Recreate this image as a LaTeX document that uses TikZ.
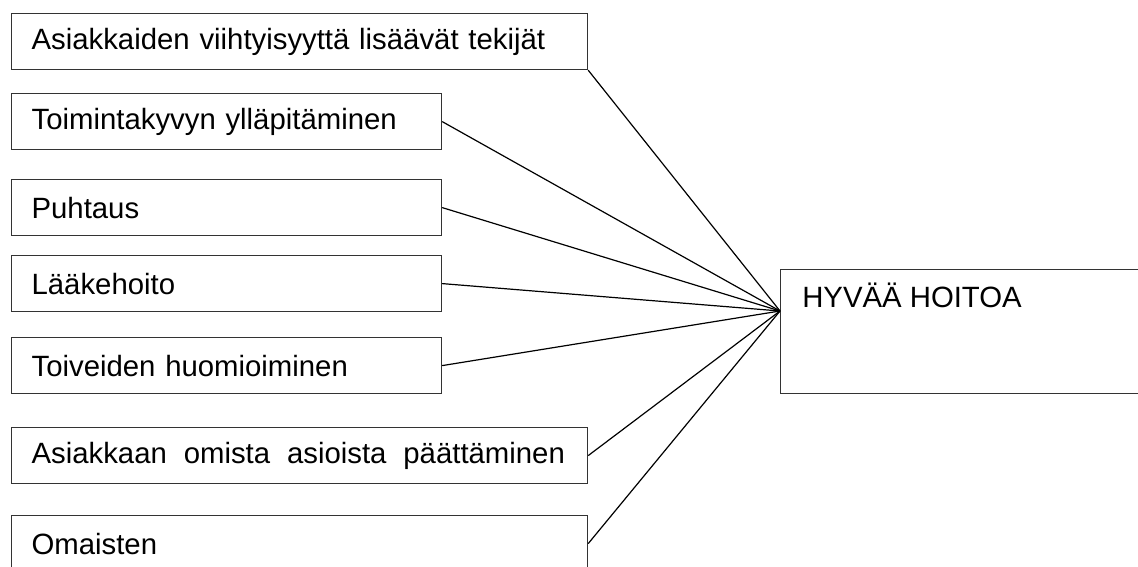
\documentclass[tikz,border=0pt]{standalone}
\usepackage{fontspec}
\setmainfont{Liberation Sans}
\usetikzlibrary{positioning}
\tikzset{
  tekija/.style={draw=black!80, line width=0.9pt, rectangle, anchor=north west,
    minimum height=42pt, inner xsep=15pt, align=left,
    font=\fontsize{22}{26}\selectfont},
  lyhyt/.style={tekija, text width=292.5pt},
  pitka/.style={tekija, text width=402pt},
  yhteys/.style={black, line width=0.9pt}
}

\begin{document}
\begin{tikzpicture}[x=0.75pt,y=-0.75pt]
\clip (0,0) rectangle (1138,567);

% vasemman reunan laatikot
\node[pitka] (asiakkaiden) at (11,13) {Asiakkaiden viihtyisyyttä lisäävät tekijät};
\node[lyhyt] (toimintakyky) at (11,93) {Toimintakyvyn ylläpitäminen};
\node[lyhyt] (puhtaus) at (11,179) {Puhtaus};
\node[lyhyt] (laakehoito) at (11,255) {Lääkehoito};
\node[lyhyt] (toiveet) at (11,337) {Toiveiden huomioiminen};
\node[pitka] (paattaminen) at (11,427) {\makebox[400pt]{Asiakkaan\hfill omista\hfill asioista\hfill päättäminen}};
\node[pitka] (omaiset) at (11,515) {Omaisten};

% oikea laatikko
\node[draw=black!80, line width=0.9pt, anchor=north west, minimum width=300pt,
  minimum height=93pt] (hoito) at (780,269) {};
\node[anchor=base west, inner sep=0pt, font=\fontsize{22}{26}\selectfont]
  (hoitoteksti) at (802,307) {HYVÄÄ HOITOA};
\coordinate (piste) at (780,311);

\draw[yhteys] (asiakkaiden.south east) -- (piste);
\foreach \n in {toimintakyky,puhtaus,laakehoito,toiveet,paattaminen,omaiset}
{
\draw[yhteys] (\n.east) -- (piste);
}

\end{tikzpicture}
\end{document}
